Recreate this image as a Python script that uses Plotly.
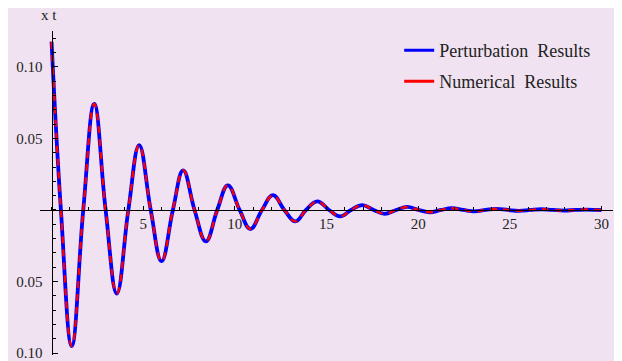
import plotly.graph_objects as go

# ---- data ----
t_values = [0.00, 0.51, 1.10, 1.73, 2.33, 2.95, 3.56, 4.19, 4.78, 5.41, 6.00, 6.62,
            7.18, 7.80, 8.42, 9.04, 9.62, 10.26, 10.85, 11.48, 12.08, 12.70, 13.30,
            13.88, 14.50, 15.14, 15.75, 16.34, 16.95, 17.57, 18.18, 18.80, 19.40,
            20.02, 20.64, 21.24, 21.85, 22.46, 23.06, 23.68, 24.28, 24.90, 25.50,
            26.12, 26.72, 27.34, 27.94, 28.56, 29.16, 29.78, 30.00]
x_perturbation = [0.1175, 0.0, -0.0950, 0.0, 0.0740, 0.0, -0.0584, 0.0, 0.0452, 0.0,
                  -0.0358, 0.0, 0.0277, 0.0, -0.0219, 0.0, 0.0172, 0.0, -0.0133, 0.0,
                  0.0103, 0.0, -0.0080, 0.0, 0.0060, 0.0, -0.0045, 0.0, 0.0034, 0.0,
                  -0.0027, 0.0, 0.0021, 0.0, -0.0016, 0.0, 0.0012, 0.0, -0.0010, 0.0,
                  0.0008, 0.0, -0.0006, 0.0, 0.0005, 0.0, -0.0004, 0.0, 0.0003, 0.0,
                  -0.0001]
x_numerical = list(x_perturbation)  # indistinguishable from the perturbation curve

x_tick_vals = [5, 10, 15, 20, 25, 30]
x_tick_text = ["5", "10", "15", "20", "25", "30"]
y_tick_vals = [-0.10, -0.05, 0.05, 0.10]
y_tick_text = ["0.10", "0.05", "0.05", "0.10"]  # as printed (minus signs not rendered)

series_names = ["Perturbation\u00a0\u00a0Results", "Numerical\u00a0\u00a0Results"]
series_colors = ["rgb(0,0,255)", "rgb(255,0,0)"]

# ---- layout geometry (page pixels; the page body adds an 8px offset) ----
W, H = 622, 361
OFF = 8
PL, PR, PT, PB = 40, 612.7, 31, 355          # plot-area edges on the page
ML, MT = PL - OFF, PT - OFF
MR, MB = W - (PR - OFF), H - (PB - OFF)
x_range = [-0.63, 30.63]
y_range = [-0.1013, 0.125]
BG = "rgb(240,226,240)"
FONT = "Liberation Serif"

x_axis_pos = (0 - y_range[0]) / (y_range[1] - y_range[0])
y_axis_pos = (0 - x_range[0]) / (x_range[1] - x_range[0])
pw, ph = PR - PL, PB - PT

def px_x(p):
    return (p - PL) / pw

def px_y(p):
    return 1 - (p - PT) / ph

fig = go.Figure()
fig.add_trace(go.Scatter(x=t_values, y=x_perturbation, mode="lines",
                         name=series_names[0], showlegend=False,
                         line=dict(color=series_colors[0], width=3.8, shape="spline",
                                   smoothing=1.2)))
fig.add_trace(go.Scatter(x=t_values, y=x_numerical, mode="lines",
                         name=series_names[1], showlegend=False,
                         line=dict(color=series_colors[1], width=2.4, shape="spline",
                                   smoothing=1.2, dash="7px,6px")))
# legend entries (solid samples, as in the reference key)
for i, leg in enumerate(["legend", "legend2"]):
    fig.add_trace(go.Scatter(x=[None], y=[None], mode="lines", name=series_names[i],
                             legend=leg, showlegend=True,
                             line=dict(color=series_colors[i], width=3)))

axis_common = dict(showgrid=False, zeroline=False, showline=True, linecolor="black",
                   linewidth=1, ticks="inside", tickcolor="black", tickwidth=1,
                   tickfont=dict(family=FONT, size=15, color="#222"), anchor="free",
                   automargin=False)

legend_common = dict(xanchor="left", yanchor="middle", bgcolor="rgba(0,0,0,0)",
                     font=dict(family=FONT, size=18, color="#222"))

fig.update_layout(
    width=W, height=H,
    margin=dict(l=ML, r=MR, t=MT, b=MB, autoexpand=False),
    paper_bgcolor=BG, plot_bgcolor=BG,
    xaxis=dict(range=x_range, position=x_axis_pos, tickmode="array",
               tickvals=x_tick_vals, ticktext=x_tick_text, ticklen=4,
               minor=dict(dtick=1, tick0=0, ticklen=2.5, ticks="inside",
                          tickcolor="black"),
               **axis_common),
    yaxis=dict(range=y_range, position=y_axis_pos, tickmode="array",
               tickvals=y_tick_vals, ticktext=y_tick_text, ticklen=5,
               ticklabelstandoff=6,
               minor=dict(dtick=0.01, tick0=0, ticklen=3, ticks="inside",
                          tickcolor="black"),
               **axis_common),
    legend=dict(x=px_x(399), y=px_y(50.5), **legend_common),
    legend2=dict(x=px_x(399), y=px_y(81.5), **legend_common),
    annotations=[dict(text="x t", xref="paper", yref="paper", x=px_x(49), y=px_y(15.5),
                      xanchor="center", yanchor="middle", showarrow=False,
                      font=dict(family=FONT, size=15, color="#222"))],
)

fig.write_html("out.html")
